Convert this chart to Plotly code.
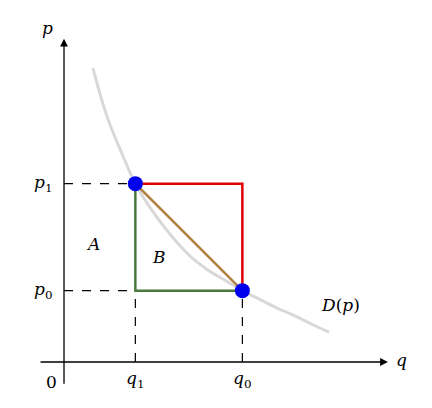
import plotly.graph_objects as go

# demand curve
curve_q = [0.81, 1.2, 1.6, 2.0, 2.5, 3.0, 3.5, 4.0, 4.5, 5.0, 5.5, 6.0, 6.5, 7.0, 7.43]
curve_p = [8.24, 6.9, 5.9, 5.0, 4.2, 3.55, 3.0, 2.6, 2.3, 2.0, 1.75, 1.5, 1.28, 1.03, 0.84]
q1, q0 = 2.0, 5.0
p1, p0 = 5.0, 2.0

serif = "DejaVu Serif"
fig = go.Figure()
fig.add_trace(go.Scatter(x=curve_q, y=curve_p, mode="lines", line=dict(color="#d8d8d8", width=3, shape="spline")))
# dashed guides
for xs, ys in [([0, q1], [p1, p1]), ([0, q1], [p0, p0]), ([q1, q1], [0, p0]), ([q0, q0], [0, p0])]:
    fig.add_trace(go.Scatter(x=xs, y=ys, mode="lines", line=dict(color="black", width=1.2, dash="dash")))
fig.add_trace(go.Scatter(x=[q1, q0, q0], y=[p1, p1, p0], mode="lines", line=dict(color="#e00000", width=2.5)))
fig.add_trace(go.Scatter(x=[q1, q1, q0], y=[p1, p0, p0], mode="lines", line=dict(color="#4a7a3a", width=2.5)))
fig.add_trace(go.Scatter(x=[q1, q0], y=[p1, p0], mode="lines", line=dict(color="#b08040", width=2.5)))
fig.add_trace(go.Scatter(x=[q1, q0], y=[p1, p0], mode="markers", marker=dict(color="#0000ee", size=15)))

# axes with arrows
fig.add_annotation(x=9.08, y=0, ax=-0.7, ay=0, xref="x", yref="y", axref="x", ayref="y",
                   showarrow=True, arrowhead=2, arrowsize=1.2, arrowwidth=1.3, arrowcolor="black", text="")
fig.add_annotation(x=0, y=9.06, ax=0, ay=-0.65, xref="x", yref="y", axref="x", ayref="y",
                   showarrow=True, arrowhead=2, arrowsize=1.2, arrowwidth=1.3, arrowcolor="black", text="")

labels = [
    (-0.45, 9.35, "<i>p</i>"), (9.45, 0.05, "<i>q</i>"), (-0.35, -0.55, "0"),
    (-0.6, p1, "<i>p</i><sub>1</sub>"), (-0.6, p0, "<i>p</i><sub>0</sub>"),
    (q1, -0.5, "<i>q</i><sub>1</sub>"), (q0, -0.5, "<i>q</i><sub>0</sub>"),
    (0.8, 3.3, "<i>A</i>"), (2.65, 2.95, "<i>B</i>"), (7.75, 1.6, "<i>D</i>(<i>p</i>)"),
]
for x, y, t in labels:
    fig.add_annotation(x=x, y=y, text=t, showarrow=False, font=dict(family=serif, size=17, color="black"))

fig.update_layout(
    width=432, height=408, margin=dict(l=0, r=0, t=0, b=0),
    paper_bgcolor="white", plot_bgcolor="white", showlegend=False,
    xaxis=dict(range=[-1.57, 10.54], visible=False),
    yaxis=dict(range=[-1.514, 9.924], visible=False),
)
fig.write_html("out.html")
